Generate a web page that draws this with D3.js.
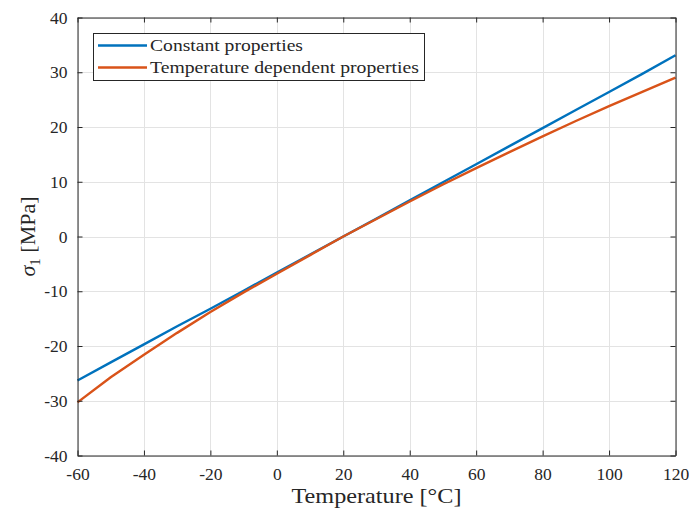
<!DOCTYPE html>
<html>
<head>
<meta charset="utf-8">
<script src="https://cdn.jsdelivr.net/npm/d3@7"></script>
<style>
  body { margin: 0; background: #fff; }
  svg text { font-family: "Liberation Serif", "DejaVu Serif", serif; fill: #262626; }
</style>
</head>
<body>
<svg id="chart" width="689" height="511"></svg>
<script>
// Temperature samples (°C)
const temperature = [-60, -50, -40, -30, -20, -10, 0, 10, 20, 30, 40, 50, 60, 70, 80, 90, 100, 110, 120];
// First principal stress, constant material properties (MPa)
const sigmaConstant = [-26.3, -23.0, -19.7, -16.4, -13.2, -9.9, -6.6, -3.3, 0, 3.3, 6.6, 9.9, 13.2, 16.5, 19.8, 23.1, 26.4, 29.7, 33.1];
// First principal stress, temperature dependent properties (MPa)
const sigmaTempDep = [-30.3, -25.7, -21.6, -17.6, -13.8, -10.2, -6.8, -3.4, 0, 3.2, 6.4, 9.5, 12.5, 15.4, 18.3, 21.1, 23.8, 26.4, 29.0];

const xTicks = [-60, -40, -20, 0, 20, 40, 60, 80, 100, 120];
const yTicks = [-40, -30, -20, -10, 0, 10, 20, 30, 40];
const seriesNames = ["Constant properties", "Temperature dependent properties"];
const seriesColors = ["#0072BD", "#D95319"];

const svg = d3.select("#chart");
const m = { left: 77.5, right: 675.5, top: 17.5, bottom: 455.5 };

const x = d3.scaleLinear().domain([-60, 120]).range([m.left, m.right]);
const y = d3.scaleLinear().domain([-40, 40]).range([m.bottom, m.top]);

const axisColor = "#262626";
const gridColor = "#e3e3e3";

// grid
const grid = svg.append("g");
grid.selectAll("line.gx").data(xTicks).join("line")
  .attr("x1", d => Math.round(x(d)) + 0.5).attr("x2", d => Math.round(x(d)) + 0.5)
  .attr("y1", m.top).attr("y2", m.bottom)
  .attr("stroke", gridColor).attr("stroke-width", 1);
grid.selectAll("line.gy").data(yTicks).join("line")
  .attr("y1", d => Math.round(y(d)) + 0.5).attr("y2", d => Math.round(y(d)) + 0.5)
  .attr("x1", m.left).attr("x2", m.right)
  .attr("stroke", gridColor).attr("stroke-width", 1);

// data lines
const series = [sigmaConstant, sigmaTempDep];
const line = d3.line().x((d, i) => x(temperature[i])).y(d => y(d));
svg.append("clipPath").attr("id", "plotclip")
  .append("rect").attr("x", m.left - 2).attr("y", m.top - 2)
  .attr("width", m.right - m.left + 4).attr("height", m.bottom - m.top + 4);
series.forEach((s, k) => {
  svg.append("path").datum(s)
    .attr("d", line)
    .attr("fill", "none")
    .attr("stroke", seriesColors[k])
    .attr("stroke-width", 2.4)
    .attr("stroke-linejoin", "round")
    .attr("clip-path", "url(#plotclip)");
});

// axes (ticks pointing inward, box on); labels use a plain hyphen for negatives
const tickLen = 5;
const fmt = d => String(d);
const axBottom = d3.axisBottom(x).tickValues(xTicks).tickSizeInner(-tickLen).tickSizeOuter(0).tickPadding(12)
  .tickFormat(fmt);
const axTop = d3.axisTop(x).tickValues(xTicks).tickSizeInner(-tickLen).tickSizeOuter(0).tickFormat("");
const axLeft = d3.axisLeft(y).tickValues(yTicks).tickSizeInner(-tickLen).tickSizeOuter(0).tickPadding(10)
  .tickFormat(fmt);
const axRight = d3.axisRight(y).tickValues(yTicks).tickSizeInner(-tickLen).tickSizeOuter(0).tickFormat("");

function styleAxis(g) {
  g.selectAll("path.domain").attr("stroke", axisColor).attr("stroke-width", 1);
  g.selectAll(".tick line").attr("stroke", axisColor).attr("stroke-width", 1);
  g.selectAll(".tick text").attr("fill", axisColor).style("font-size", "17.5px")
    .style("font-family", "'Liberation Serif', 'DejaVu Serif', serif");
}
svg.append("g").attr("transform", `translate(0,${m.bottom})`).call(axBottom).call(styleAxis);
svg.append("g").attr("transform", `translate(0,${m.top})`).call(axTop).call(styleAxis);
svg.append("g").attr("transform", `translate(${m.left},0)`).call(axLeft).call(styleAxis);
svg.append("g").attr("transform", `translate(${m.right},0)`).call(axRight).call(styleAxis);

// axis labels
svg.append("text")
  .attr("x", (m.left + m.right) / 2).attr("y", 503)
  .attr("text-anchor", "middle")
  .attr("textLength", 170).attr("lengthAdjust", "spacingAndGlyphs")
  .style("font-size", "22px")
  .text("Temperature [°C]");

const yl = svg.append("text")
  .attr("transform", `translate(35,${(m.top + m.bottom) / 2}) rotate(-90)`)
  .attr("text-anchor", "middle")
  .style("font-size", "22px");
yl.append("tspan").style("font-style", "italic").text("σ");
yl.append("tspan").attr("dy", 5).style("font-size", "15px").text("1");
yl.append("tspan").attr("dy", -5).text(" [MPa]");

// legend
const legendWidths = [153, 269];
const lg = svg.append("g");
lg.append("rect")
  .attr("x", 93.5).attr("y", 33.5).attr("width", 331).attr("height", 47)
  .attr("fill", "#fff").attr("stroke", axisColor).attr("stroke-width", 1);
seriesNames.forEach((name, k) => {
  const cy = 45.5 + k * 22;
  lg.append("line").attr("x1", 98).attr("x2", 147).attr("y1", cy).attr("y2", cy)
    .attr("stroke", seriesColors[k]).attr("stroke-width", 2.4);
  lg.append("text").attr("x", 150).attr("y", cy + 5.5)
    .attr("textLength", legendWidths[k]).attr("lengthAdjust", "spacingAndGlyphs")
    .style("font-size", "17.5px").text(name);
});
</script>
</body>
</html>
